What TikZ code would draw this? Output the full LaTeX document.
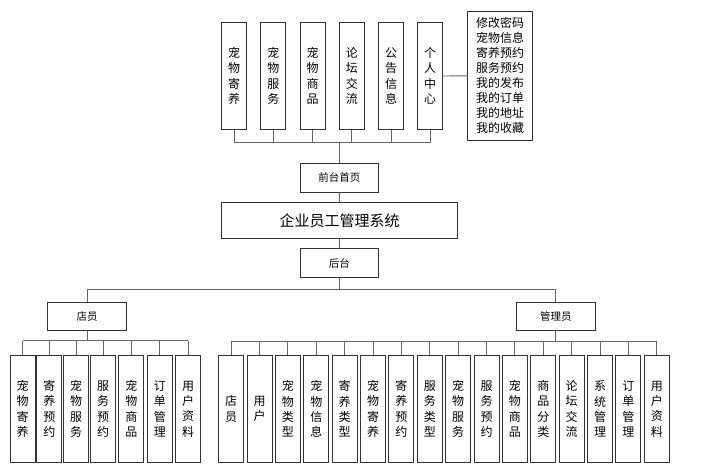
\documentclass[tikz,border=0pt]{standalone}
\usepackage{fontspec}
\newfontfamily\cjk{Noto Sans CJK SC}
\tikzset{
  box/.style={draw=black!80, line width=0.9pt, inner sep=0pt, align=center, font=\cjk\fontsize{10.5}{12}\selectfont, fill=white},
  vbox/.style={box, minimum width=25pt, minimum height=106.6pt, font=\cjk\fontsize{12}{15.4}\selectfont},
  wire/.style={draw=black!60, line width=0.9pt},
}
\begin{document}
\begin{tikzpicture}[x=1pt,y=-1pt]
\useasboundingbox (0,0) rectangle (702,471);
% top level
\node[vbox] (t1) at (234.2,76) {宠\\物\\寄\\养};
\node[vbox] (t2) at (273.4,76) {宠\\物\\服\\务};
\node[vbox] (t3) at (312.6,76) {宠\\物\\商\\品};
\node[vbox] (t4) at (351.8,76) {论\\坛\\交\\流};
\node[vbox] (t5) at (391.0,76) {公\\告\\信\\息};
\node[vbox] (t6) at (430.2,76) {个\\人\\中\\心};
\node[box, minimum width=65.4pt, minimum height=129.7pt, font=\cjk\fontsize{12}{15}\selectfont] (pc) at (500,75.8)
  {修改密码\\宠物信息\\寄养预约\\服务预约\\我的发布\\我的订单\\我的地址\\我的收藏};
\draw[wire] (t6.east) -- (pc.west);
\node[box, minimum width=78pt, minimum height=28.7pt] (qt) at (339.3,177.7) {前台首页};
\node[box, minimum width=235.6pt, minimum height=36pt, font=\cjk\fontsize{15}{18}\selectfont] (sys) at (339.5,220.3) {企业员工管理系统};
\node[box, minimum width=78pt, minimum height=28.6pt] (ht) at (339.3,263) {后台};
\coordinate (topbus) at (339.3,142.7);
\foreach \i in {1,...,6} { \draw[wire] (t\i.south) -- (t\i.south |- topbus); }
\draw[wire] (t1.south |- topbus) -- (t6.south |- topbus);
\draw[wire] (topbus) -- (qt.north);
\draw[wire] (qt.south) -- (sys.north);
\draw[wire] (sys.south) -- (ht.north);
% second level
\node[box, minimum width=79pt, minimum height=28.4pt] (dy) at (87.2,316.5) {店员};
\node[box, minimum width=79pt, minimum height=28.4pt] (gl) at (555.8,316.3) {管理员};
\coordinate (midbus) at (339.3,289);
\draw[wire] (ht.south) -- (midbus);
\draw[wire] (dy.north) -- (dy.north |- midbus) -- (gl.north |- midbus) -- (gl.north);
% staff children
\coordinate (dybus) at (87.2,340.7);
\foreach \x/\t [count=\i] in {22.5/宠\\物\\寄\\养, 49.3/寄\\养\\预\\约, 76/宠\\物\\服\\务, 103/服\\务\\预\\约, 131.3/宠\\物\\商\\品, 159.8/订\\单\\管\\理, 188.2/用\\户\\资\\料} {
  \node[vbox] (d\i) at (\x,409) {\t};
  \draw[wire] (d\i.north) -- (d\i.north |- dybus);
}
\draw[wire] (d1.north |- dybus) -- (d7.north |- dybus);
\draw[wire] (dy.south) -- (dybus);
% admin children
\coordinate (glbus) at (555.8,341);
\foreach \t [count=\i] in {店\\员, 用\\户, 宠\\物\\类\\型, 宠\\物\\信\\息, 寄\\养\\类\\型, 宠\\物\\寄\\养, 寄\\养\\预\\约, 服\\务\\类\\型, 宠\\物\\服\\务, 服\\务\\预\\约, 宠\\物\\商\\品, 商\\品\\分\\类, 论\\坛\\交\\流, 系\\统\\管\\理, 订\\单\\管\\理, 用\\户\\资\\料} {
  \node[vbox] (g\i) at ({231.2+28.37*(\i-1)},409) {\t};
  \draw[wire] (g\i.north) -- (g\i.north |- glbus);
}
\draw[wire] (g1.north |- glbus) -- (g16.north |- glbus);
\draw[wire] (gl.south) -- (glbus);
\end{tikzpicture}
\end{document}
